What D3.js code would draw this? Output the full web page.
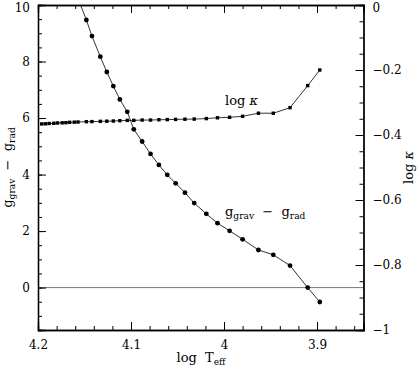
<!DOCTYPE html>
<html>
<head>
<meta charset="utf-8">
<script src="https://cdn.jsdelivr.net/npm/d3@7"></script>
<style>
  body { margin: 0; background: #fff; }
  svg { display: block; }
  text { font-family: "DejaVu Serif", "Liberation Serif", serif; fill: #000; }
  .axis path { stroke: #000; stroke-width: 1.3; }
  .axis line { stroke: #000; stroke-width: 1; }
  .axis text { font-size: 12px; }
</style>
</head>
<body>
<div id="chart"></div>
<script>
// shared temperature grid (log Teff)
const logTeff = [4.196, 4.192, 4.188, 4.183, 4.179, 4.174, 4.170, 4.166, 4.161, 4.157,
  4.148, 4.142, 4.133, 4.126, 4.119, 4.112, 4.104, 4.097, 4.088, 4.079,
  4.070, 4.061, 4.052, 4.042, 4.032, 4.019, 4.007, 3.994, 3.980, 3.963,
  3.947, 3.929, 3.910, 3.897];

// g_grav - g_rad (left axis)
const gDiff = [null, null, null, null, null, null, null, null, null, 10.24,
  9.47, 8.90, 8.17, 7.63, 7.13, 6.66, 6.22, 5.60, 5.17, 4.73,
  4.34, 3.99, 3.69, 3.36, 2.99, 2.61, 2.28, 2.01, 1.71, 1.33,
  1.16, 0.78, 0.00, -0.51];

// log kappa (right axis)
const logKappa = [-0.366, -0.3655, -0.3646, -0.364, -0.363, -0.3625, -0.362, -0.361, -0.3605, -0.360,
  -0.359, -0.3588, -0.358, -0.3575, -0.357, -0.356, -0.355, -0.355, -0.354, -0.354,
  -0.353, -0.3526, -0.352, -0.3514, -0.351, -0.3495, -0.347, -0.3455, -0.3425, -0.333,
  -0.333, -0.316, -0.248, -0.200];

const xMajor = [4.2, 4.1, 4.0, 3.9];
const xMinor = d3.range(0, 18).map(i => +(4.2 - i * 0.02).toFixed(2));
const yLeftMajor = [0, 2, 4, 6, 8, 10];
const yLeftMinor = d3.range(-3, 21).map(i => i * 0.5);
const yRightMajor = [0, -0.2, -0.4, -0.6, -0.8, -1];
const yRightMinor = d3.range(0, 21).map(i => +(-i * 0.05).toFixed(2));

const W = 420, H = 369;
const padL = 38, padR = 363.5, padT = 5, padB = 330;

const svg = d3.select("#chart").append("svg")
    .attr("width", W)
    .attr("height", H);

const x = d3.scaleLinear().domain([4.2, 3.85]).range([padL, padR]);
const yL = d3.scaleLinear().domain([-1.5, 10]).range([padB, padT]);
const yR = d3.scaleLinear().domain([-1, 0]).range([padB, padT]);

const fmt = d => String(+d.toFixed(2)).replace("-", "\u2212");

svg.append("clipPath").attr("id", "plot")
  .append("rect")
    .attr("x", padL).attr("y", padT)
    .attr("width", padR - padL).attr("height", padB - padT);

// zero line
svg.append("line")
    .attr("x1", padL).attr("x2", padR)
    .attr("y1", yL(0)).attr("y2", yL(0))
    .attr("stroke", "#777")
    .attr("stroke-width", 1);

// axes: major + minor ticks, pointing inward
function addAxis(axisFn, scale, major, minor, transform, pad, labels) {
    svg.append("g").attr("class", "axis")
        .attr("transform", transform)
        .call(axisFn(scale).tickValues(minor).tickSize(-4).tickFormat(""));
    return svg.append("g").attr("class", "axis")
        .attr("transform", transform)
        .call(axisFn(scale).tickValues(major).tickSize(-8).tickPadding(pad)
            .tickFormat(labels ? fmt : ""));
}
addAxis(d3.axisBottom, x, xMajor, xMinor, `translate(0,${padB})`, 10, true);
addAxis(d3.axisTop, x, xMajor, xMinor, `translate(0,${padT})`, 0, false);
const leftAx = addAxis(d3.axisLeft, yL, yLeftMajor, yLeftMinor.filter(v => v >= -1.5 && v <= 10), `translate(${padL},0)`, 8, true);
const rightAx = addAxis(d3.axisRight, yR, yRightMajor, yRightMinor, `translate(${padR},0)`, 9, true);

// keep the top labels inside the window
leftAx.selectAll(".tick text").filter(d => d === 10).attr("dy", "0.52em");
rightAx.selectAll(".tick text").filter(d => d === 0).attr("dy", "0.52em");

// data
const plot = svg.append("g").attr("clip-path", "url(#plot)");

const gPts = logTeff.map((t, i) => ({ t: t, v: gDiff[i] })).filter(d => d.v !== null);
const kPts = logTeff.map((t, i) => ({ t: t, v: logKappa[i] }));

plot.append("path")
    .datum(gPts)
    .attr("fill", "none")
    .attr("stroke", "#000")
    .attr("stroke-width", 0.8)
    .attr("d", d3.line().x(d => x(d.t)).y(d => yL(d.v)));

plot.selectAll(".gdot")
    .data(gPts)
    .enter().append("circle")
    .attr("cx", d => x(d.t))
    .attr("cy", d => yL(d.v))
    .attr("r", 2.4)
    .attr("fill", "#000");

plot.append("path")
    .datum(kPts)
    .attr("fill", "none")
    .attr("stroke", "#000")
    .attr("stroke-width", 0.8)
    .attr("d", d3.line().x(d => x(d.t)).y(d => yR(d.v)));

plot.selectAll(".kdot")
    .data(kPts)
    .enter().append("rect")
    .attr("x", d => x(d.t) - 1.7)
    .attr("y", d => yR(d.v) - 1.7)
    .attr("width", 3.4)
    .attr("height", 3.4)
    .attr("fill", "#000");

// labels
function gLabel(sel, size) {
    sel.append("tspan").text("g");
    sel.append("tspan").attr("dy", 3).style("font-size", (size * 0.7) + "px").text("grav");
    sel.append("tspan").attr("dy", -3).text("  \u2212  ");
    sel.append("tspan").text("g");
    sel.append("tspan").attr("dy", 3).style("font-size", (size * 0.7) + "px").text("rad");
}

const inLabelG = svg.append("text")
    .attr("x", 225).attr("y", 216)
    .style("font-size", "13px")
    .style("white-space", "pre");
gLabel(inLabelG, 13);

const inLabelK = svg.append("text")
    .attr("x", 225).attr("y", 105)
    .style("font-size", "13px");
inLabelK.append("tspan").text("log ");
inLabelK.append("tspan").style("font-style", "italic").text("\u03ba");

const yLabel = svg.append("text")
    .attr("transform", `translate(12,${(padT + padB) / 2}) rotate(-90)`)
    .attr("text-anchor", "middle")
    .style("font-size", "13px")
    .style("white-space", "pre");
gLabel(yLabel, 13);

const rLabel = svg.append("text")
    .attr("transform", `translate(413,${(padT + padB) / 2}) rotate(-90)`)
    .attr("text-anchor", "middle")
    .style("font-size", "13px");
rLabel.append("tspan").text("log ");
rLabel.append("tspan").style("font-style", "italic").text("\u03ba");

const xLabel = svg.append("text")
    .attr("x", 201).attr("y", 362)
    .attr("text-anchor", "middle")
    .style("font-size", "13px")
    .style("white-space", "pre");
xLabel.append("tspan").text("log  T");
xLabel.append("tspan").attr("dy", 3).style("font-size", "9px").text("eff");
</script>
</body>
</html>
